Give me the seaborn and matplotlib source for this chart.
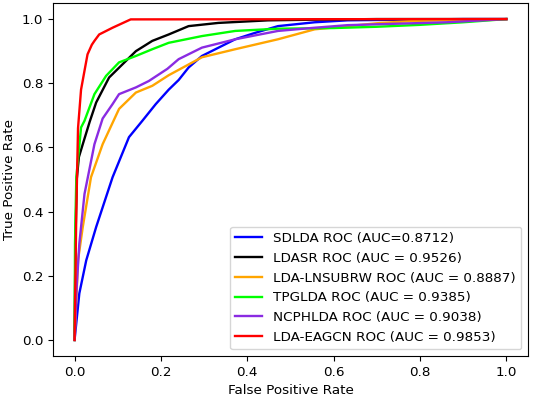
import pandas as pd
import numpy as np
import matplotlib
matplotlib.use('Agg')
import matplotlib.pyplot as plt
import seaborn as sns

# curvas ROC
labels = ['SDLDA ROC (AUC=0.8712)',
          'LDASR ROC (AUC = 0.9526)',
          'LDA-LNSUBRW ROC (AUC = 0.8887)',
          'TPGLDA ROC (AUC = 0.9385)',
          'NCPHLDA ROC (AUC = 0.9038)',
          'LDA-EAGCN ROC (AUC = 0.9853)']
cores = ['blue', 'black', 'orange', 'lime', 'blueviolet', 'red']

sdlda_x = [0, 0.011, 0.027, 0.05, 0.088, 0.126, 0.157, 0.188, 0.218, 0.241, 0.264, 0.295, 0.372,
           0.418, 0.471, 0.556, 0.632, 0.75, 0.9, 1.0]
sdlda_y = [0, 0.145, 0.248, 0.352, 0.507, 0.632, 0.683, 0.735, 0.78, 0.81, 0.849, 0.885, 0.937,
           0.957, 0.978, 0.99, 0.996, 0.998, 1.0, 1.0]

ldasr_x = [0, 0.002, 0.005, 0.01, 0.019, 0.035, 0.05, 0.08, 0.111, 0.142, 0.18, 0.218, 0.264, 0.333,
           0.448, 0.55, 0.7, 1.0]
ldasr_y = [0, 0.3, 0.5, 0.57, 0.61, 0.68, 0.74, 0.818, 0.859, 0.9, 0.932, 0.952, 0.978, 0.988,
           0.996, 0.998, 1.0, 1.0]

lnsubrw_x = [0, 0.008, 0.019, 0.038, 0.065, 0.103, 0.142, 0.18, 0.218, 0.295, 0.372, 0.471, 0.556,
             0.709, 0.786, 1.0]
lnsubrw_y = [0, 0.248, 0.352, 0.507, 0.61, 0.72, 0.771, 0.792, 0.825, 0.881, 0.906, 0.937, 0.968,
             0.988, 0.994, 1.0]

tpglda_x = [0, 0.001, 0.004, 0.015, 0.023, 0.046, 0.073, 0.103, 0.142, 0.18, 0.218, 0.295, 0.372,
            0.471, 0.6, 0.7, 0.8, 0.9, 1.0]
tpglda_y = [0, 0.3, 0.507, 0.662, 0.683, 0.766, 0.823, 0.865, 0.885, 0.906, 0.926, 0.947, 0.963,
            0.97, 0.972, 0.976, 0.982, 0.99, 1.0]

ncphlda_x = [0, 0.004, 0.011, 0.023, 0.046, 0.065, 0.088, 0.103, 0.142, 0.172, 0.215, 0.241, 0.295,
             0.372, 0.471, 0.556, 0.632, 0.862, 1.0]
ncphlda_y = [0, 0.145, 0.3, 0.455, 0.61, 0.69, 0.735, 0.766, 0.787, 0.807, 0.845, 0.875, 0.911,
             0.937, 0.963, 0.973, 0.981, 0.99, 1.0]

eagcn_x = [0, 0.004, 0.008, 0.015, 0.023, 0.03, 0.04, 0.046, 0.057, 0.088, 0.13, 1.0]
eagcn_y = [0, 0.4, 0.66, 0.78, 0.839, 0.89, 0.92, 0.932, 0.952, 0.973, 0.999, 1.0]

curvas = [(sdlda_x, sdlda_y), (ldasr_x, ldasr_y), (lnsubrw_x, lnsubrw_y),
          (tpglda_x, tpglda_y), (ncphlda_x, ncphlda_y), (eagcn_x, eagcn_y)]

linhas = []
for nome, (xs, ys) in zip(labels, curvas):
    for a, b in zip(xs, ys):
        linhas.append([nome, a, b])
df = pd.DataFrame(linhas, columns=['modelo', 'fpr', 'tpr'])

plt.rcParams['font.size'] = 9.7
fig, ax = plt.subplots(figsize=(5.33, 3.97), dpi=100)
fig.subplots_adjust(left=0.0994, right=0.9906, bottom=0.1033, top=0.9924)

sns.lineplot(df, x='fpr', y='tpr', hue='modelo', hue_order=labels,
             palette=dict(zip(labels, cores)),
             estimator=None, sort=False, linewidth=1.7, ax=ax)

ax.set_xticks([0, 0.2, 0.4, 0.6, 0.8, 1.0])
ax.set_yticks([0, 0.2, 0.4, 0.6, 0.8, 1.0])
ax.set_xlabel('False Positive Rate')
ax.set_ylabel('True Positive Rate')
ax.legend(loc='lower right')

fig.savefig('out.png', dpi=100)
